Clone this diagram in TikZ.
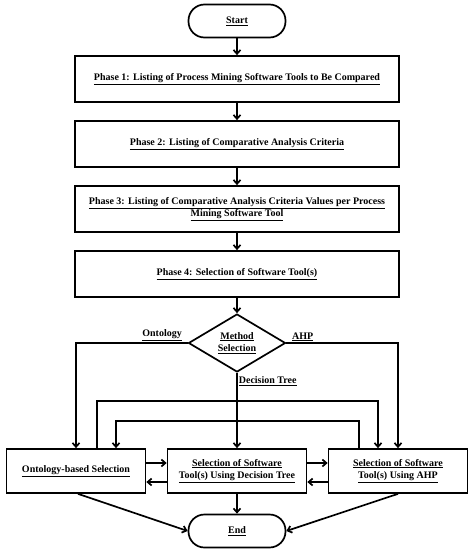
\documentclass[tikz,border=0pt]{standalone}
\usepackage{fontspec}
\setmainfont{Liberation Serif}
\usetikzlibrary{arrows.meta,shapes.geometric}
\tikzset{
  arr/.style={line width=1.7pt,-{Straight Barb[length=4pt,width=7pt]}},
  phasebox/.style={draw,line width=1.7pt,minimum width=324pt,minimum height=46pt,align=center,font=\fontsize{10}{12.5}\selectfont\bfseries},
  selbox/.style={draw,line width=1.7pt,minimum width=139pt,minimum height=44pt,align=center,font=\fontsize{10}{12.5}\selectfont\bfseries},
  term/.style={draw,line width=1.7pt,rounded corners=16pt,minimum width=97pt,minimum height=33pt,font=\fontsize{10}{12.5}\selectfont\bfseries},
  choice/.style={draw,diamond,aspect=1.67,line width=1.7pt,minimum width=97pt,minimum height=58pt,inner sep=0pt,align=center,font=\fontsize{10}{12.5}\selectfont\bfseries},
  lbl/.style={inner sep=1pt,font=\fontsize{10}{12.5}\selectfont\bfseries}
}
\begin{document}
\begin{tikzpicture}[x=1pt,y=-1pt]
			%%%%% START %%%%%
			\useasboundingbox (0,0) rectangle (474,555);
			
			\node[term] (start) at (237, 21) {\underline{Start}};
			\node[phasebox] (ph1) at (237, 79) {\underline{Phase 1: Listing of Process Mining Software Tools to Be Compared}};
			\node[phasebox] (ph2) at (237, 144) {\underline{Phase 2: Listing of Comparative Analysis Criteria}};
			\node[phasebox] (ph3) at (237, 209) {\underline{Phase 3: Listing of Comparative Analysis Criteria Values per Process}\\\underline{Mining Software Tool}};
			\node[phasebox] (ph4) at (237, 274) {\underline{Phase 4: Selection of Software Tool(s)}};
			
			\node[choice] (method) at (237, 343) {\underline{Method}\\\underline{Selection}};
			
			\node[selbox] (onto) at (76, 471) {\underline{Ontology-based Selection}};
			\node[selbox] (dtree) at (237, 471) {\underline{Selection of Software}\\\underline{Tool(s) Using Decision Tree}};
			\node[selbox] (ahp) at (398, 471) {\underline{Selection of Software}\\\underline{Tool(s) Using AHP}};
			
			\node[term] (end) at (237, 531) {\underline{End}};
			
			\draw[arr] (start) -- (ph1);
			\draw[arr] (ph1) -- (ph2);
			\draw[arr] (ph2) -- (ph3);
			\draw[arr] (ph3) -- (ph4);
			\draw[arr] (ph4) -- (method);
			
			\draw[arr] (method.west) node[lbl, above left, xshift=-4pt] {\underline{Ontology}} -| (onto.north);
			\draw[arr] (method.east) node[lbl, above right, xshift=4pt] {\underline{AHP}} -| (ahp.north);
			\draw[arr] (method.south) node[lbl, below right, yshift=-2pt] {\underline{Decision Tree}} -- (dtree.north);
			
			\draw[arr] ([xshift=21pt]onto.north) -- ++(0,-47) -| ([xshift=-20pt]ahp.north);
			\draw[arr] ([xshift=-39pt]ahp.north) -- ++(0,-27) -| ([xshift=40pt]onto.north);
			
			\draw[arr] ([yshift=8pt]onto.east) -- ([yshift=8pt]dtree.west);
			\draw[arr] ([yshift=-11pt]dtree.west) -- ([yshift=-11pt]onto.east);
			\draw[arr] ([yshift=8pt]dtree.east) -- ([yshift=8pt]ahp.west);
			\draw[arr] ([yshift=-11pt]ahp.west) -- ([yshift=-11pt]dtree.east);
			
			\draw[arr] ([xshift=2pt]onto.south) -- (end.west);
			\draw[arr] (dtree) -- (end);
			\draw[arr] (ahp.south) -- (end.east);
			%%%%% END %%%%%
\end{tikzpicture}
\end{document}
